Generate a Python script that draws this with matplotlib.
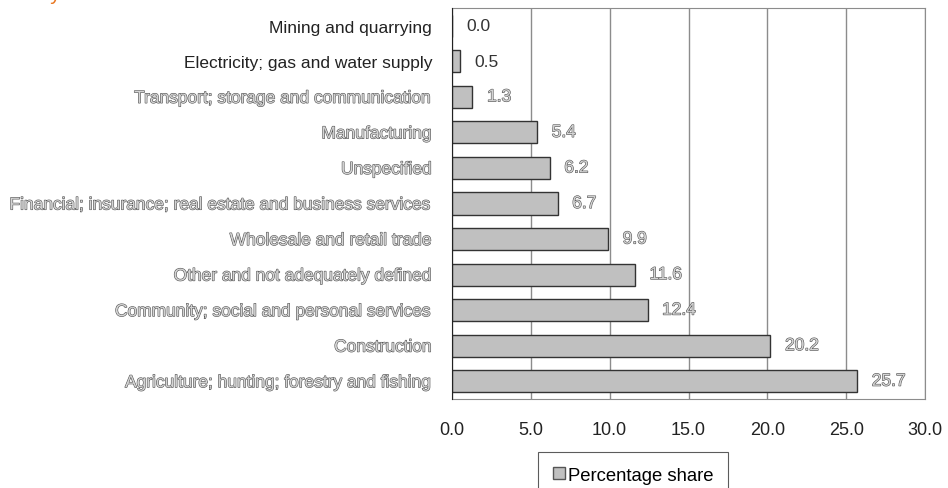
import matplotlib.pyplot as plt
import matplotlib.patheffects as pe
from matplotlib.patches import Patch

categories = [
    "Mining and quarrying",
    "Electricity; gas and water supply",
    "Transport; storage and communication",
    "Manufacturing",
    "Unspecified",
    "Financial; insurance; real estate and business services",
    "Wholesale and retail trade",
    "Other and not adequately defined",
    "Community; social and personal services",
    "Construction",
    "Agriculture; hunting; forestry and fishing",
]
shares = [0.0, 0.5, 1.3, 5.4, 6.2, 6.7, 9.9, 11.6, 12.4, 20.2, 25.7]
xticks = [0, 5, 10, 15, 20, 25, 30]
series_name = "Percentage share"
heading = "Share by industry"

plt.rcParams['font.family'] = ['Liberation Sans', 'DejaVu Sans']

fig = plt.figure(figsize=(9.48, 4.89), dpi=100)
ax = fig.add_axes([452 / 948, 1 - 400 / 489, 473 / 948, 391 / 489])

# rows after the first two are rendered with an outlined, hollow-looking glyph style
outline = [pe.withStroke(linewidth=0.8, foreground="#505050")]

ypos = list(range(len(categories)))
ax.barh(ypos, shares, height=0.62, color="#c0c0c0", edgecolor="#333333",
        linewidth=1.0, zorder=3)

for i, (y, v) in enumerate(zip(ypos, shares)):
    t = ax.annotate(f"{v:.1f}", xy=(v, y), xytext=(10.5, 0), textcoords="offset points",
                    ha="left", va="center", fontsize=12.5, color="#333333", zorder=4)
    if i >= 2:
        t.set_color("#d4d4d4")
        t.set_path_effects(outline)

ax.set_xlim(0, 30)
ax.set_ylim(len(categories) - 0.5, -0.5)
ax.set_xticks(xticks)
ax.set_xticklabels([f"{t:.1f}" for t in xticks], fontsize=13, color="#222222")
ax.set_yticks(ypos)
ax.set_yticklabels(categories, fontsize=12.5, color="#222222")
for i, lab in enumerate(ax.get_yticklabels()):
    if i >= 2:
        lab.set_color("#d4d4d4")
        lab.set_path_effects(outline)
ax.tick_params(axis="x", length=0, pad=16)
ax.tick_params(axis="y", length=0, pad=14.4)

ax.grid(axis="x", color="#8c8c8c", linewidth=1.0, zorder=0)
for side in ("top", "right", "bottom"):
    ax.spines[side].set_color("#8c8c8c")
ax.spines["left"].set_color("#222222")
ax.spines["left"].set_zorder(5)

leg = fig.legend(handles=[Patch(facecolor="#c0c0c0", edgecolor="#555555", label=series_name)],
                 loc="upper left", bbox_to_anchor=(538 / 948, 1 - 453 / 489), fontsize=13.3,
                 frameon=True, fancybox=False, handlelength=0.65, handleheight=0.65,
                 handletextpad=0.15, borderpad=0.8, borderaxespad=0)
leg.get_frame().set_edgecolor("#333333")
leg.get_frame().set_linewidth(0.8)

fig.text(61 / 948, 1 - 0.5 / 489, heading, color="#e87722", fontsize=15,
         ha="right", va="baseline")

fig.savefig("out.png", dpi=100)
